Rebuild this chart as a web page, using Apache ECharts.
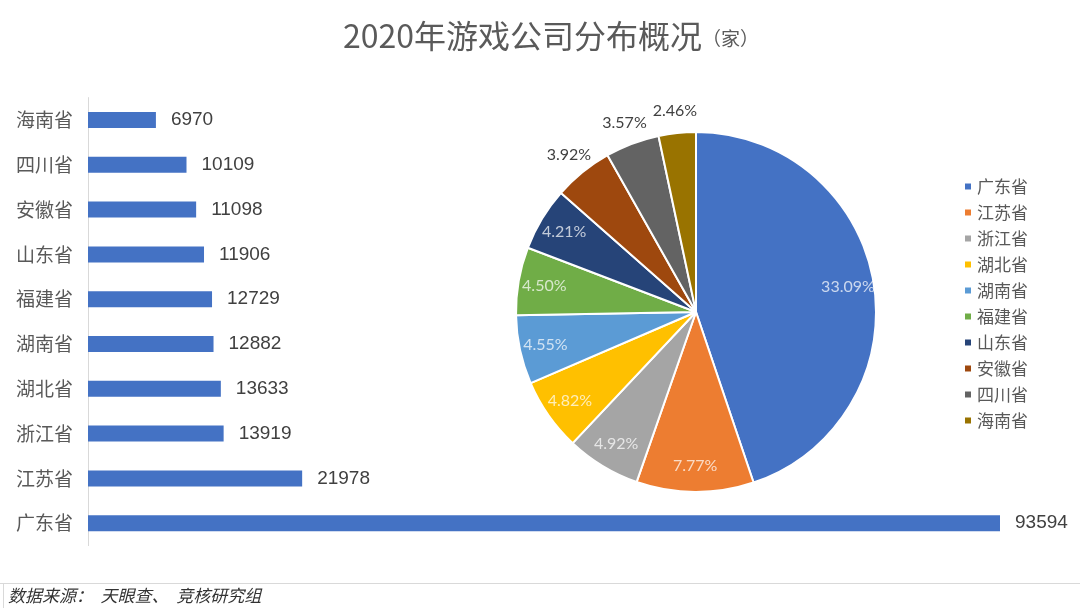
<!DOCTYPE html>
<html>
<head>
<meta charset="utf-8">
<script src="https://cdn.jsdelivr.net/npm/echarts@6/dist/echarts.min.js"></script>
<style>
html,body{margin:0;padding:0;background:#fff;}
#c{width:1080px;height:608px;}
</style>
</head>
<body>
<div id="c"></div>
<script>
// Data
var provinces = ['广东省','江苏省','浙江省','湖北省','湖南省','福建省','山东省','安徽省','四川省','海南省'];
var companyCounts = [93594, 21978, 13919, 13633, 12882, 12729, 11906, 11098, 10109, 6970];
var shareOfNation = [33.09, 7.77, 4.92, 4.82, 4.55, 4.50, 4.21, 3.92, 3.57, 2.46];
var outsideLabelNames = ['安徽省','四川省','海南省'];
var sliceColors = ['#4472C4','#ED7D31','#A5A5A5','#FFC000','#5B9BD5','#70AD47','#264478','#9E480E','#636363','#997300'];

var cjk = '"Noto Sans CJK SC", sans-serif';
var num = '"Liberation Sans", Arial, sans-serif';

var chart = echarts.init(document.getElementById('c'), null, {renderer:'canvas'});

var mainPieData = provinces.map(function(p,i){
  return {name:p, value:companyCounts[i], itemStyle:{color:sliceColors[i]}};
});
function labelData(showOutside){
  return provinces.map(function(p,i){
    var isOut = outsideLabelNames.indexOf(p) >= 0;
    var show = showOutside ? isOut : !isOut;
    return {name:p, value:companyCounts[i], label:{show:show}};
  });
}
var pctFmt = function(pr){ return shareOfNation[pr.dataIndex].toFixed(2) + '%'; };

var option = {
  animation:false,
  backgroundColor:'#fff',
  title:{
    text:'{a|2020年游戏公司分布概况}{b|（家）}',
    left:546, top:15, textAlign:'center',
    textStyle:{
      fontWeight:'normal',
      rich:{
        a:{fontSize:32, color:'#5a5a5a', fontFamily:cjk, fontWeight:'normal'},
        b:{fontSize:19, color:'#5a5a5a', fontFamily:cjk, fontWeight:'normal', padding:[5,0,0,0]}
      }
    }
  },
  legend:{
    orient:'vertical', left:958, top:173,
    itemWidth:8, itemHeight:8, itemGap:9, icon:'rect',
    textStyle:{fontSize:17, color:'#595959', fontFamily:cjk, lineHeight:17},
    data:provinces.map(function(p,i){return {name:p, icon:'rect', itemStyle:{color:sliceColors[i]}};})
  },
  grid:{left:88, top:97.6, height:448, width:912, containLabel:false},
  xAxis:{type:'value', min:0, max:function(v){return v.max;}, show:false},
  yAxis:{
    type:'category', data:provinces,
    axisLine:{show:true, lineStyle:{color:'#d9d9d9', width:1}},
    axisTick:{show:false},
    axisLabel:{fontSize:19, color:'#595959', fontFamily:cjk, margin:15}
  },
  series:[
    {
      type:'bar', data:companyCounts, barWidth:16,
      itemStyle:{color:'#4472C4'},
      label:{show:true, position:'right', distance:15, fontSize:19, color:'#404040', fontFamily:num},
      silent:true
    },
    {
      type:'pie', center:[696,312], radius:[0,180], startAngle:90, clockwise:true,
      data:mainPieData,
      itemStyle:{borderColor:'#fff', borderWidth:2},
      label:{show:false}, labelLine:{show:false}, silent:true
    },
    {
      type:'pie', center:[696,312], radius:[0,302], startAngle:90, clockwise:true,
      data:labelData(false), legendHoverLink:false,
      itemStyle:{color:'rgba(0,0,0,0)'},
      label:{position:'inside', formatter:pctFmt, fontSize:16, fontFamily:'Lato, sans-serif', color:'rgba(255,255,255,0.72)'},
      labelLine:{show:false}, silent:true, tooltip:{show:false}
    },
    {
      type:'pie', center:[696,312], radius:[0,398], startAngle:90, clockwise:true,
      data:labelData(true), legendHoverLink:false,
      itemStyle:{color:'rgba(0,0,0,0)'},
      label:{position:'inside', formatter:pctFmt, fontSize:16, fontFamily:'Lato, sans-serif', color:'#404040'},
      labelLine:{show:false}, silent:true, tooltip:{show:false}
    }
  ],
  graphic:[
    {type:'line', shape:{x1:0,y1:583.5,x2:1080,y2:583.5}, style:{stroke:'#d9d9d9', lineWidth:1}, silent:true},
    {type:'line', shape:{x1:3.5,y1:583.5,x2:3.5,y2:608}, style:{stroke:'#d9d9d9', lineWidth:1}, silent:true},
    {type:'text', left:8, top:587, style:{text:'数据来源：  天眼查、  竞核研究组', font:'italic 17px "Noto Sans CJK SC", sans-serif', fill:'#333'}, silent:true}
  ]
};
chart.setOption(option);
</script>
</body>
</html>
